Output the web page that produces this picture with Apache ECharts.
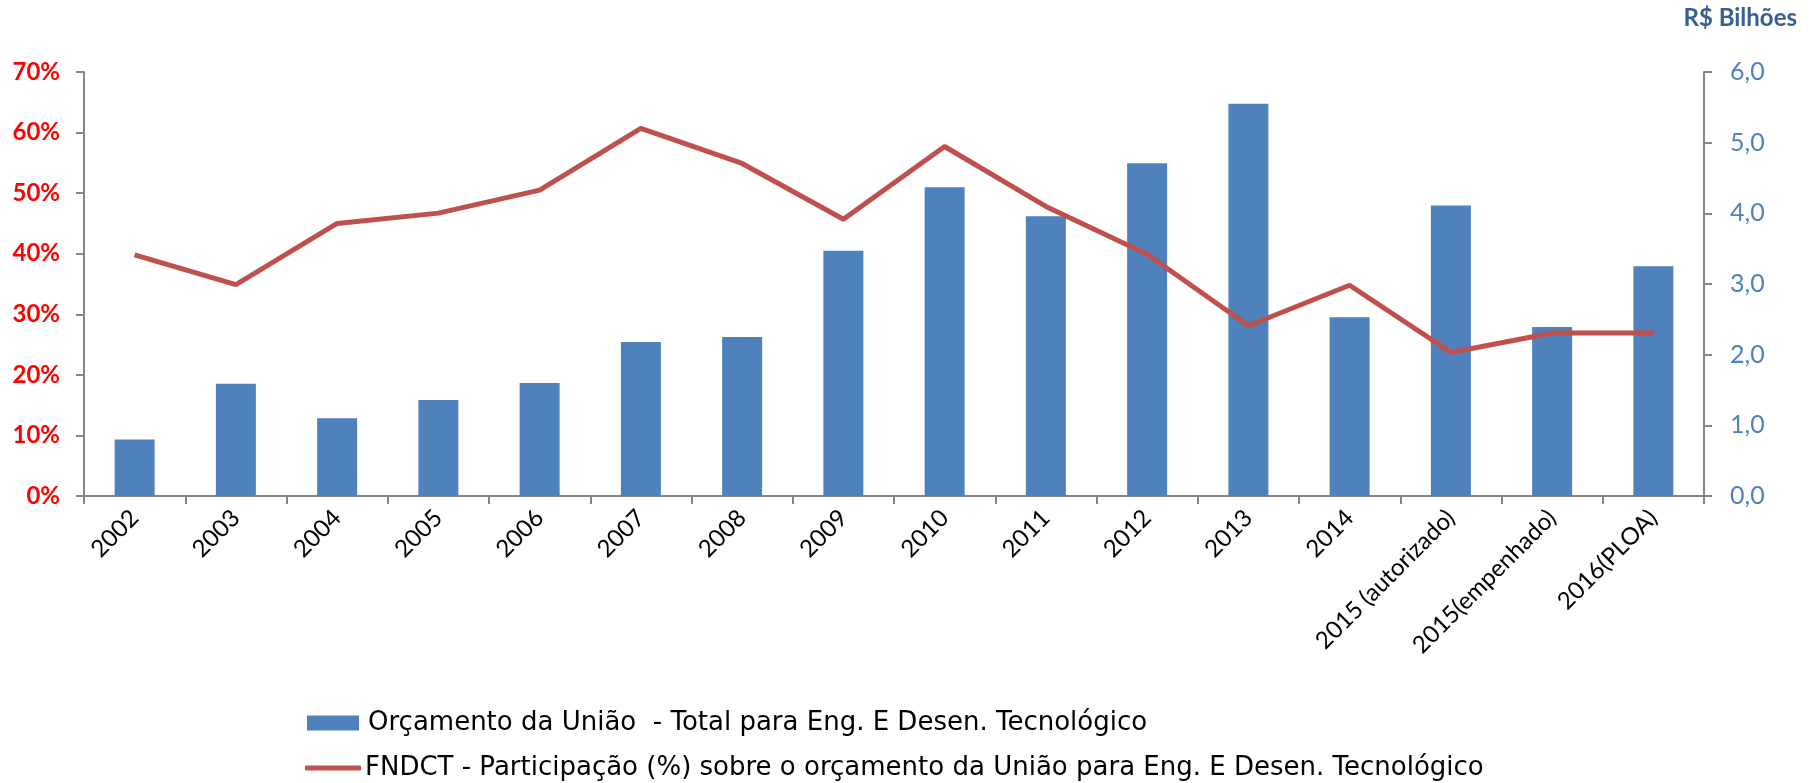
<!DOCTYPE html>
<html>
<head>
<meta charset="utf-8">
<script src="https://cdn.jsdelivr.net/npm/echarts@6/dist/echarts.min.js"></script>
<style>
    html, body { margin: 0; padding: 0; background: #fff; }
    #chart { width: 1812px; height: 783px; }
</style>
</head>
<body>
<div id="chart"></div>
<script>
// categorias (anos)
var categories = ["2002", "2003", "2004", "2005", "2006", "2007", "2008", "2009", "2010", "2011",
    "2012", "2013", "2014", "2015 (autorizado)", "2015(empenhado)", "2016(PLOA)"];
// R$ bilhoes - eixo direito
var orcamento = [0.80, 1.59, 1.10, 1.36, 1.60, 2.18, 2.25, 3.47, 4.37, 3.96, 4.71, 5.55, 2.53, 4.11, 2.39, 3.25];
// participacao FNDCT (%) - eixo esquerdo
var participacao = [39.8, 34.9, 45.0, 46.7, 50.5, 60.7, 54.9, 45.7, 57.7, 47.8, 39.9, 28.1, 34.8, 23.7, 26.9, 26.9];
var leftTicks = [0, 10, 20, 30, 40, 50, 60, 70];
var rightTicks = [0, 1, 2, 3, 4, 5, 6];

var nomeBarra = "Orçamento da União  - Total para Eng. E Desen. Tecnológico";
var nomeLinha = "FNDCT - Participação (%) sobre o orçamento da União para Eng. E Desen. Tecnológico";

var axisGray = "#868686";
var chart = echarts.init(document.getElementById("chart"));

var option = {
    animation: false,
    textStyle: { fontFamily: "Lato" },
    graphic: [{
        type: "text", right: 15, top: 6,
        style: { text: "R$ Bilhões", font: "bold 24px Lato", fill: "#376092" }
    }],
    legend: [{
        left: 302, top: 705, itemWidth: 52, itemHeight: 15,
        data: [{ name: nomeBarra, icon: "rect" }],
        textStyle: { fontFamily: "DejaVu Sans", fontSize: 26, color: "#000", padding: [0, 0, 0, 4] }
    }, {
        left: 300, top: 750, itemWidth: 56, itemHeight: 5, itemGap: 4,
        data: [{ name: nomeLinha, icon: "roundRect" }],
        textStyle: { fontFamily: "DejaVu Sans", fontSize: 26, color: "#000", padding: [0, 0, 0, -1] }
    }],
    grid: { left: 84, right: 108, top: 72, bottom: 287 },
    xAxis: {
        type: "category",
        data: categories,
        boundaryGap: true,
        axisLine: { lineStyle: { color: axisGray, width: 2 } },
        axisTick: { show: true, alignWithLabel: false, length: 8, lineStyle: { color: axisGray, width: 2 } },
        axisLabel: { rotate: 45, margin: 18, fontSize: 24, color: "#000", fontFamily: "Lato", interval: 0 },
        splitLine: { show: false }
    },
    yAxis: [{
        type: "value",
        min: leftTicks[0], max: leftTicks[leftTicks.length - 1], interval: 10,
        axisLine: { show: true, lineStyle: { color: axisGray, width: 2 } },
        axisTick: { show: true, length: 8, lineStyle: { color: axisGray, width: 2 } },
        axisLabel: { margin: 24, fontSize: 24, fontWeight: "bold", color: "#FF0000", fontFamily: "Lato",
            formatter: function (v) { return v + "%"; } },
        splitLine: { show: false }
    }, {
        type: "value",
        position: "right",
        min: rightTicks[0], max: rightTicks[rightTicks.length - 1], interval: 1,
        axisLine: { show: true, lineStyle: { color: axisGray, width: 2 } },
        axisTick: { show: true, length: 8, lineStyle: { color: axisGray, width: 2 } },
        axisLabel: { margin: 26, fontSize: 25, color: "#4F81BD", fontFamily: "Lato",
            formatter: function (v) { return v.toFixed(1).replace(".", ","); } },
        splitLine: { show: false }
    }],
    series: [{
        name: nomeBarra,
        type: "bar",
        yAxisIndex: 1,
        barWidth: 40,
        data: orcamento,
        itemStyle: { color: "#4F81BD" }
    }, {
        name: nomeLinha,
        type: "line",
        yAxisIndex: 0,
        data: participacao,
        symbol: "none",
        lineStyle: { color: "#C0504D", width: 5 },
        itemStyle: { color: "#C0504D" },
        z: 3
    }]
};
chart.setOption(option);
</script>
</body>
</html>
